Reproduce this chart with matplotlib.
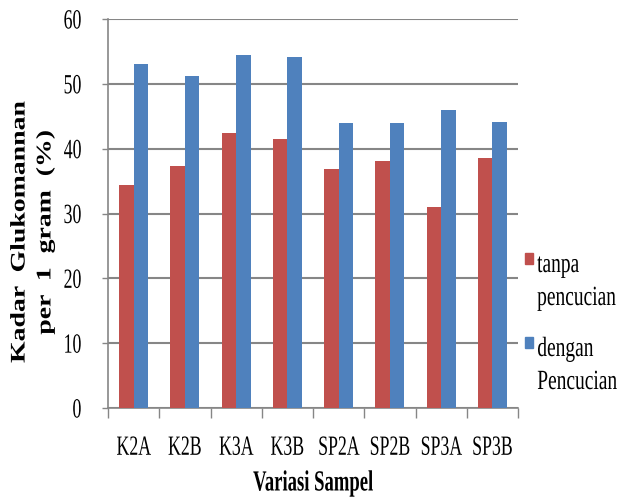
import numpy as np
import matplotlib
matplotlib.use("Agg")
import matplotlib.pyplot as plt
from matplotlib.patheffects import AbstractPathEffect
from matplotlib.transforms import Affine2D, Bbox
from matplotlib.patches import Rectangle
from matplotlib.text import Text

# data
samples = ["K2A", "K2B", "K3A", "K3B", "SP2A", "SP2B", "SP3A", "SP3B"]
tanpa = [34.4, 37.3, 42.4, 41.5, 36.8, 38.1, 31.0, 38.5]
dengan = [53.0, 51.2, 54.4, 54.2, 43.9, 43.9, 45.9, 44.1]
yticks = [0, 10, 20, 30, 40, 50, 60]

RED = "#C0504D"
BLUE = "#4F81BD"
GRID = "#868686"
SQ = 0.64  # text in the original is squeezed horizontally


class Squeeze(AbstractPathEffect):
    # squeeze text horizontally around an anchor
    def __init__(self, sx=SQ, anchor="center"):
        super().__init__()
        self.sx = sx
        self.anchor = anchor

    def pivot(self, x0, x1):
        if self.anchor == "left":
            return x0
        if self.anchor == "right":
            return x1
        return (x0 + x1) / 2

    def draw_path(self, renderer, gc, tpath, affine, rgbFace=None):
        bb = tpath.get_extents(affine)
        p = self.pivot(bb.x0, bb.x1)
        tr = affine + Affine2D().translate(-p, 0).scale(self.sx, 1).translate(p, 0)
        renderer.draw_path(gc, tpath, tr, rgbFace)


# make the reported text extents match the squeezed drawing
_orig_extent = Text.get_window_extent


def _squeezed_extent(self, renderer=None, dpi=None):
    bb = _orig_extent(self, renderer, dpi)
    for pe in self.get_path_effects():
        if isinstance(pe, Squeeze):
            p = pe.pivot(bb.x0, bb.x1)
            return Bbox.from_extents(p + (bb.x0 - p) * pe.sx, bb.y0,
                                     p + (bb.x1 - p) * pe.sx, bb.y1)
    return bb


Text.get_window_extent = _squeezed_extent

plt.rcParams["font.family"] = ["Liberation Serif", "DejaVu Serif"]

W, H = 623, 497
fig = plt.figure(figsize=(W / 100, H / 100), dpi=100)
ax = fig.add_axes([108 / W, 1 - 408 / H, (518 - 108) / W, (408 - 19) / H])

x = np.arange(len(samples))
bw = 0.285
ax.bar(x - bw / 2, tanpa, bw, color=RED, zorder=3)
ax.bar(x + bw / 2, dengan, bw, color=BLUE, zorder=3)

ax.set_xlim(-0.5, len(samples) - 0.5)
ax.set_ylim(0, 60)
ax.set_yticks(yticks)
ax.set_yticklabels([str(v) for v in yticks])
ax.yaxis.grid(True, color=GRID, linewidth=1.5, zorder=0)

# category boundary ticks, labels at the centres
ax.set_xticks(np.arange(len(samples) + 1) - 0.5)
ax.set_xticklabels([])
ax.set_xticks(x, minor=True)
ax.set_xticklabels(samples, minor=True)
ax.tick_params(axis="x", which="major", length=7, color=GRID, width=1)
ax.tick_params(axis="x", which="minor", length=0, pad=20, labelsize=20)
ax.tick_params(axis="y", length=4, color=GRID, width=1, pad=15, labelsize=20)

for s in ["top", "right"]:
    ax.spines[s].set_visible(False)
for s in ["left", "bottom"]:
    ax.spines[s].set_color(GRID)
    ax.spines[s].set_linewidth(1.2)

for t in ax.get_xticklabels(minor=True):
    t.set_path_effects([Squeeze(anchor="center")])
for t in ax.get_yticklabels():
    t.set_path_effects([Squeeze(anchor="right")])

fig.text(313 / W, 1 - 483 / H, "Variasi Sampel", ha="center", va="center",
         fontsize=21, fontweight="bold", path_effects=[Squeeze()])
fig.text(33 / W, 1 - 232 / H, "Kadar  Glukomannan\nper  1  gram  (%)", rotation=90,
         ha="center", va="center", multialignment="center", fontsize=20,
         fontweight="bold", linespacing=1.0, path_effects=[Squeeze(0.75)])

# legend on the right
legend_items = [(RED, ["tanpa", "pencucian"], 253), (BLUE, ["dengan", "Pencucian"], 337)]
for color, lines, ytop in legend_items:
    fig.patches.append(Rectangle((525 / W, 1 - (ytop + 11) / H), 8 / W, 11 / H,
                                 transform=fig.transFigure, color=color))
    for i, line in enumerate(lines):
        fig.text(537 / W, 1 - (ytop + 19 + 33 * i) / H, line, ha="left",
                 va="baseline", fontsize=20, path_effects=[Squeeze(0.7, anchor="left")])

fig.savefig("out.png", dpi=100)
